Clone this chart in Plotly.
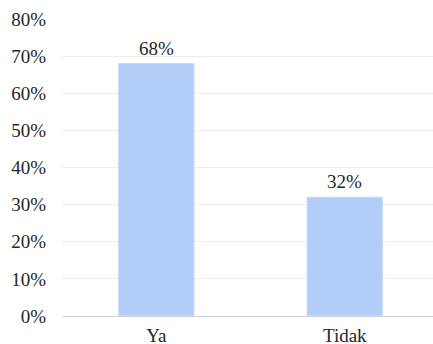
import plotly.graph_objects as go

categories = ["Ya", "Tidak"]
shares = [0.68, 0.32]
tick_vals = [0, 0.1, 0.2, 0.3, 0.4, 0.5, 0.6, 0.7, 0.8]
tick_text = ["0%", "10%", "20%", "30%", "40%", "50%", "60%", "70%", "80%"]

serif = "Liberation Serif, Times New Roman, serif"
ink = "#262626"
fsize = 19

fig = go.Figure(
    go.Bar(
        x=categories,
        y=shares,
        width=0.4,
        marker=dict(color="#b3cdf9", line=dict(color="#c9dbfb", width=1)),
        hoverinfo="skip",
    )
)

# value labels above each bar
for cat, v in zip(categories, shares):
    fig.add_annotation(
        x=cat, y=v, text=f"{round(v * 100)}%",
        showarrow=False, yanchor="bottom", yshift=3,
        font=dict(family=serif, size=fsize, color=ink),
    )

fig.update_layout(
    width=433,
    height=344,
    margin=dict(l=62, r=0, t=19, b=28),
    paper_bgcolor="white",
    plot_bgcolor="white",
    showlegend=False,
    font=dict(family=serif, size=fsize, color=ink),
)

fig.update_xaxes(
    range=[-0.5, 1.468],
    automargin=False,
    showgrid=False,
    showline=True,
    linecolor="#d0d0d0",
    linewidth=1,
    ticks="",
    ticklabelstandoff=2,
    tickfont=dict(family=serif, size=fsize, color=ink),
)

fig.update_yaxes(
    range=[0, 0.8],
    automargin=False,
    tickvals=tick_vals,
    ticktext=tick_text,
    showgrid=True,
    gridcolor="#ececec",
    gridwidth=1,
    zeroline=False,
    showline=False,
    ticks="",
    ticklabelstandoff=15,
    tickfont=dict(family=serif, size=fsize, color=ink),
)

fig.write_html("out.html")
